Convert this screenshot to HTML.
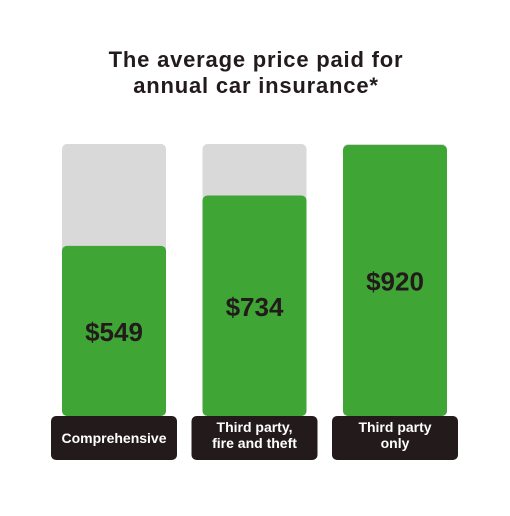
<!DOCTYPE html>
<html><head><meta charset="utf-8"><style>
body{margin:0;background:#fff;width:510px;height:511px;overflow:hidden;font-family:"Liberation Sans",sans-serif}
</style></head><body>
<svg id="chart" width="510" height="511" xmlns="http://www.w3.org/2000/svg">
<text x="256" y="67" text-anchor="middle" font-size="22" font-weight="bold" letter-spacing="0.8" fill="#231a1c">The average price paid for</text>
<text x="256" y="93" text-anchor="middle" font-size="22" font-weight="bold" letter-spacing="0.8" fill="#231a1c">annual car insurance*</text>
</svg>
<script>
const categories=[["Comprehensive"],["Third party,","fire and theft"],["Third party","only"]];
const values=[549,734,920];
const valueLabels=["$549","$734","$920"];
const maxValue=920;
const svg=document.getElementById('chart');
const NS='http://www.w3.org/2000/svg';
const baseY=395,fullH=250,topY=145,bottomY=416;
function yScale(v){return baseY-v/maxValue*fullH;}
function xScale(i){return 62+i*140.5;}
function mk(t,a){const e=document.createElementNS(NS,t);for(const k in a)e.setAttribute(k,a[k]);svg.appendChild(e);return e;}
values.forEach((v,i)=>{
 const x=xScale(i),w=104;
 const bg=mk('rect',{x:x,y:topY-1,width:w,height:bottomY-topY+1,rx:5,fill:'#d9d9d9'});
 
 
 const y=yScale(v);
 const b=mk('rect',{x:x,y:y,width:w,height:bottomY-y,rx:5,fill:'#3fa535'});
 
 
 const t=mk('text',{x:x+w/2,y:(y+bottomY)/2+10,'text-anchor':'middle','font-size':'26','font-weight':'bold',fill:'#231a1c'});
 t.textContent=valueLabels[i];
 
 
 const lb=mk('rect',{x:x-11,y:416,width:126,height:44,rx:5,fill:'#231a1c'});
 
 
 const lines=categories[i];
 lines.forEach((s,j)=>{
  const ty=lines.length===1?443:432+j*16;
  const tt=mk('text',{x:x+w/2,y:ty,'text-anchor':'middle','font-size':'14','font-weight':'bold',fill:'#fff'});
  tt.textContent=s;
  
  
 });
});
</script>
</body></html>
